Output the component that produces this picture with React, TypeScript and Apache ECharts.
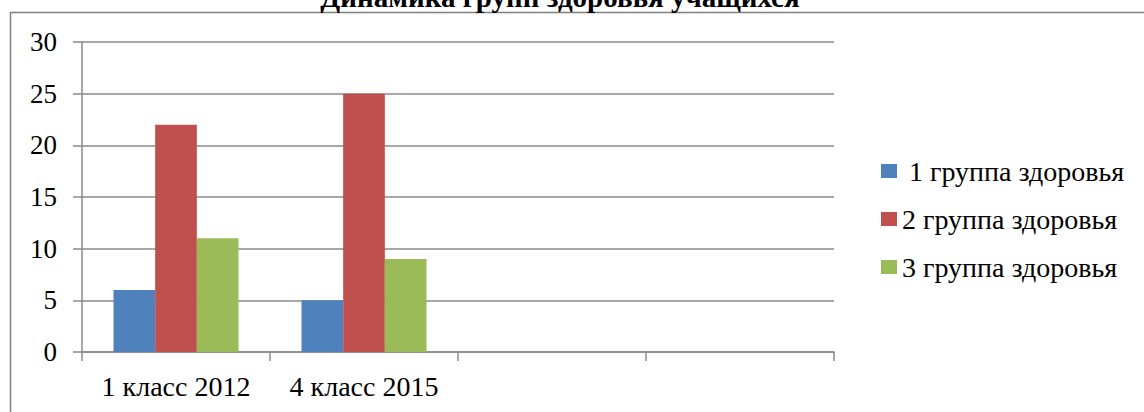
import React, { useEffect, useRef } from "react";
import * as echarts from "echarts";

const titleText = "Динамика групп здоровья учащихся";
const categories = ["1 класс 2012", "4 класс 2015", "", ""];
const seriesNames = [" 1 группа здоровья", "2 группа здоровья", "3 группа здоровья"];
const group1 = [6, 5, null, null];
const group2 = [22, 25, null, null];
const group3 = [11, 9, null, null];
const colors = ["#4F81BD", "#C0504D", "#9BBB59"];
const yTicks = { min: 0, max: 30, interval: 5 };

const FONT = "Times New Roman, Liberation Serif, DejaVu Serif, serif";
const GRAY = "#8a8a8a";

export default function App() {
  const ref = useRef<HTMLDivElement>(null);
  useEffect(() => {
    if (!ref.current) return;
    const chart = echarts.init(ref.current, undefined, { renderer: "svg" });
    const values = [group1, group2, group3];
    chart.setOption({
      animation: false,
      backgroundColor: "#ffffff",
      color: colors,
      textStyle: { fontFamily: FONT, color: "#000" },
      grid: { left: 82, right: 310, top: 42, bottom: 60, containLabel: false },
      graphic: [
        {
          type: "rect",
          z: 0,
          shape: { x: 10.5, y: 12.5, width: 1300, height: 600 },
          style: { fill: "none", stroke: "#7f7f7f", lineWidth: 1.5 },
        },
        {
          type: "text",
          z: 10,
          x: 560,
          y: -3,
          style: {
            text: titleText,
            fontFamily: FONT,
            fontWeight: "bold",
            fontSize: 29,
            fill: "#000",
            align: "center",
            verticalAlign: "middle",
          },
        },
      ],
      legend: {
        orient: "vertical",
        left: 876,
        top: 152,
        itemWidth: 16,
        itemHeight: 14,
        itemGap: 20,
        icon: "rect",
        textStyle: { fontFamily: FONT, fontSize: 28, color: "#000", lineHeight: 28 },
        data: seriesNames,
      },
      xAxis: {
        type: "category",
        data: categories,
        boundaryGap: true,
        axisLine: { show: true, lineStyle: { color: GRAY, width: 1.5 } },
        axisTick: { show: true, length: 9, lineStyle: { color: GRAY, width: 1.5 } },
        axisLabel: { fontFamily: FONT, fontSize: 28, color: "#000", margin: 20, interval: 0 },
      },
      yAxis: {
        type: "value",
        min: yTicks.min,
        max: yTicks.max,
        interval: yTicks.interval,
        axisLine: { show: true, lineStyle: { color: GRAY, width: 1.5 } },
        axisTick: { show: true, length: 9, lineStyle: { color: GRAY, width: 1.5 } },
        splitLine: { show: true, lineStyle: { color: GRAY, width: 1.5 } },
        axisLabel: { fontFamily: FONT, fontSize: 27, color: "#000", margin: 25 },
      },
      series: seriesNames.map((name, i) => ({
        name,
        type: "bar",
        data: values[i],
        barGap: "0%",
        barCategoryGap: "33.5%",
        itemStyle: { color: colors[i] },
      })),
    });
    return () => chart.dispose();
  }, []);
  return (
    <div
      ref={ref}
      style={{ position: "fixed", left: 0, top: 0, width: 1144, height: 412 }}
    />
  );
}
